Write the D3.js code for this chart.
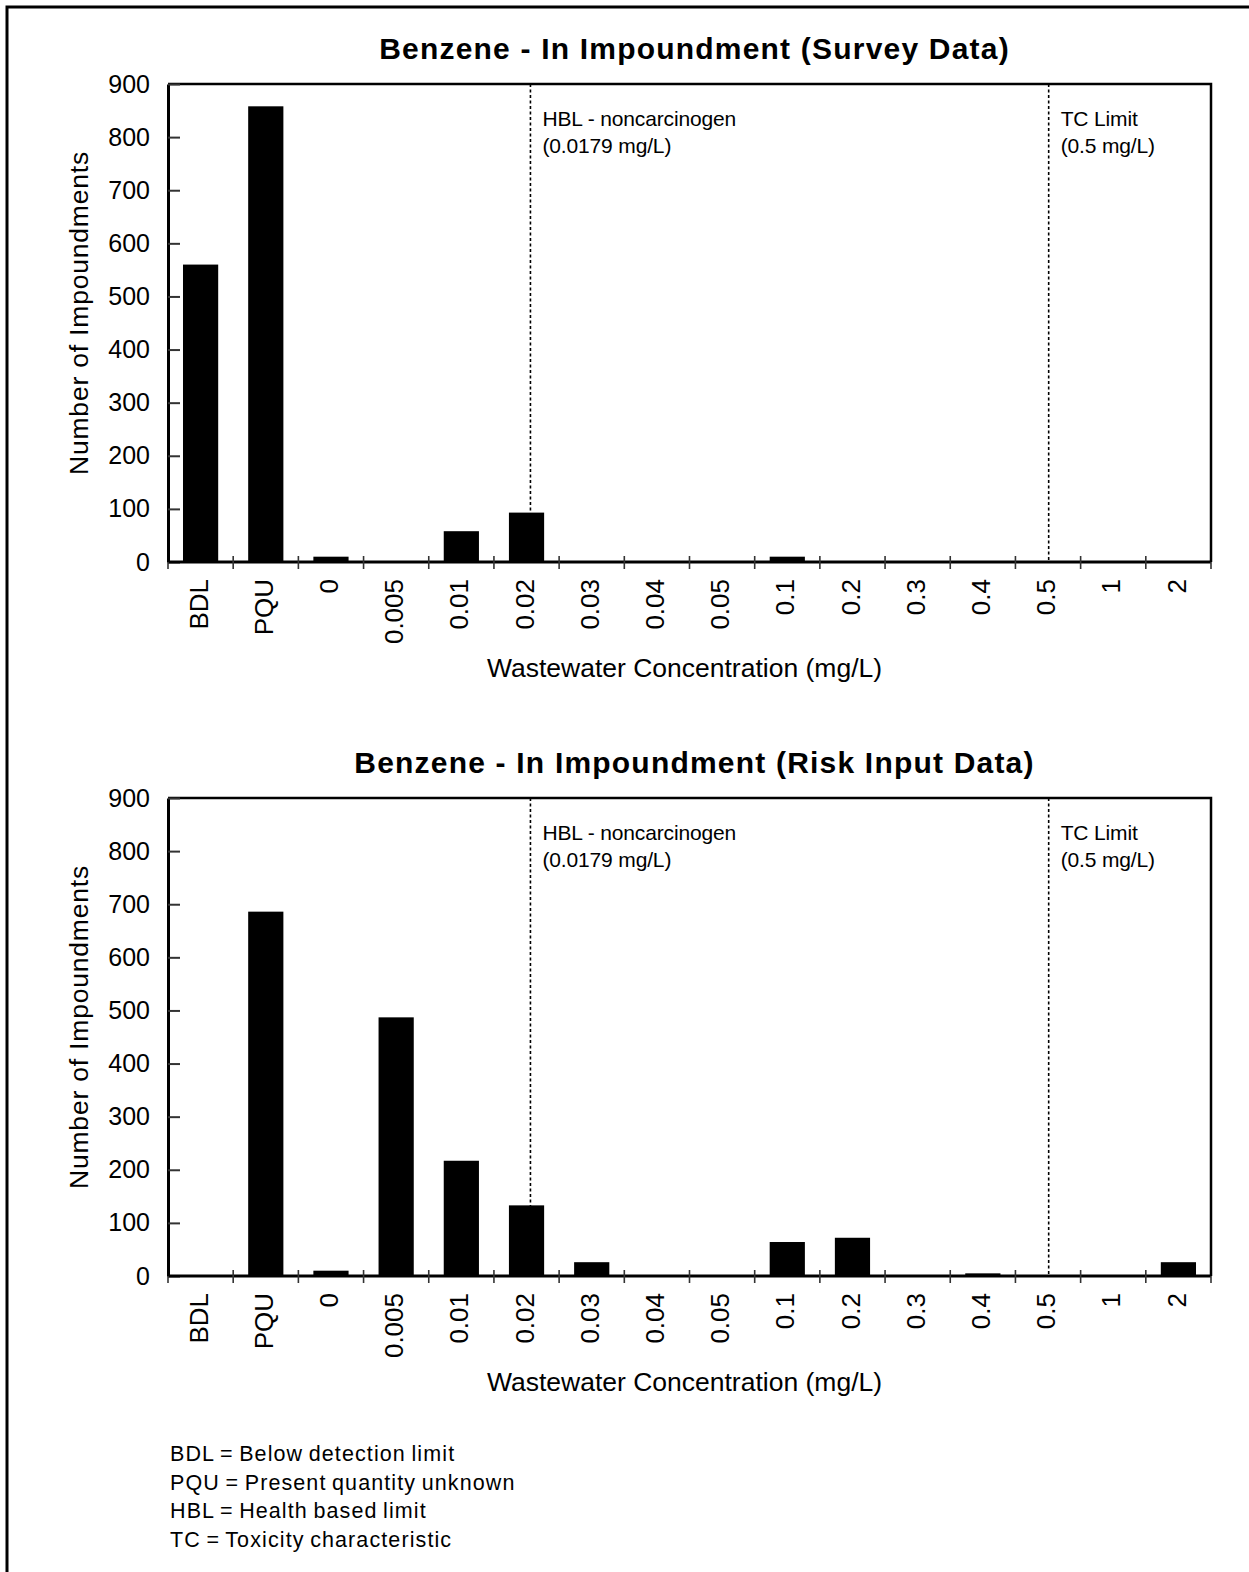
<!DOCTYPE html>
<html>
<head>
<meta charset="utf-8">
<script src="https://cdn.jsdelivr.net/npm/d3@7"></script>
<style>
  body { margin: 0; background: #fff; }
  text { font-family: "Liberation Sans", Arial, sans-serif; fill: #000; }
</style>
</head>
<body>
<svg id="chart" width="1249" height="1572"></svg>
<script>
// categories on the x axis (concentration bins, mg/L)
let categories = ["BDL", "PQU", "0", "0.005", "0.01", "0.02", "0.03", "0.04", "0.05", "0.1", "0.2", "0.3", "0.4", "0.5", "1", "2"];

// number of impoundments per bin
let surveyCounts = [560, 858, 10, 0, 58, 93, 0, 0, 0, 10, 0, 0, 0, 0, 0, 0];
let riskCounts   = [0, 686, 10, 487, 217, 133, 26, 0, 0, 64, 72, 0, 5, 0, 0, 26];

let yTicks = [0, 100, 200, 300, 400, 500, 600, 700, 800, 900];

let titles = ["Benzene - In Impoundment (Survey Data)", "Benzene - In Impoundment (Risk Input Data)"];

// reference lines: bin they fall in, where inside that bin, and the two-line label
let refCats  = ["0.02", "0.5"];
let refFrac  = [0.56, 0.51];
let refLabel = [["HBL - noncarcinogen", "(0.0179 mg/L)"], ["TC Limit", "(0.5 mg/L)"]];

let footnotes = [
  "BDL = Below detection limit",
  "PQU = Present quantity unknown",
  "HBL = Health based limit",
  "TC = Toxicity characteristic"
];

let svg = d3.select("#chart");

svg.append("rect").attr("width", 1249).attr("height", 1572).attr("fill", "#fff");

// outer frame (only left and top edges are inside the picture)
svg.append("path")
  .attr("d", "M7,1572 V7 H1249")
  .attr("fill", "none")
  .attr("stroke", "#000")
  .attr("stroke-width", 3);

let left = 168, right = 1211, plotH = 478;

let xScale = d3.scaleBand()
  .domain(categories)
  .range([left, right])
  .paddingInner(0.46)
  .paddingOuter(0.23);

let yScale = d3.scaleLinear()
  .domain([0, 900])
  .range([plotH, 0]);

function drawChart(top, title, counts) {
  let g = svg.append("g").attr("transform", "translate(0," + top + ")");

  // title
  g.append("text")
    .attr("x", (left + right) / 2 + 5)
    .attr("y", -25)
    .attr("text-anchor", "middle")
    .style("font-size", "30px")
    .style("font-weight", "bold")
    .style("letter-spacing", "1.2px")
    .text(title);

  // plot frame top and right
  g.append("path")
    .attr("d", "M" + left + "," + yScale(900) + " H" + right + " V" + yScale(0))
    .attr("fill", "none")
    .attr("stroke", "#000")
    .attr("stroke-width", 2.5);

  // reference lines (drawn before the bars so bars cover them)
  refCats.forEach((c, i) => {
    let x = xScale(c) - xScale.step() * 0.23 + xScale.step() * refFrac[i];
    g.append("line")
      .attr("x1", x).attr("x2", x)
      .attr("y1", yScale(900)).attr("y2", yScale(0))
      .attr("stroke", "#000")
      .attr("stroke-width", 1.6)
      .attr("stroke-dasharray", "3,2.5");
    refLabel[i].forEach((t, j) => {
      g.append("text")
        .attr("x", x + 12)
        .attr("y", yScale(900) + 42 + j * 27)
        .style("font-size", "21px")
        .style("letter-spacing", "-0.15px")
        .text(t);
    });
  });

  // bars
  g.selectAll(".bar")
    .data(counts)
    .join("rect")
    .attr("class", "bar")
    .attr("x", (d, i) => xScale(categories[i]))
    .attr("width", xScale.bandwidth())
    .attr("y", d => yScale(d))
    .attr("height", d => yScale(0) - yScale(d))
    .attr("fill", "#000");

  // y axis
  let yAxis = g.append("g")
    .attr("transform", "translate(" + left + ",0)")
    .call(d3.axisLeft(yScale)
      .tickValues(yTicks)
      .tickSizeInner(-12)
      .tickSizeOuter(0)
      .tickPadding(18));
  yAxis.select(".domain").attr("stroke-width", 3);
  yAxis.selectAll(".tick line").attr("stroke", "#333").attr("stroke-width", 2);
  yAxis.selectAll("text")
    .style("font-size", "25px")
    .attr("fill", "#000");

  // x axis labels (rotated)
  let xAxis = g.append("g")
    .attr("transform", "translate(0," + plotH + ")")
    .call(d3.axisBottom(xScale).tickSize(0).tickPadding(0));
  xAxis.select(".domain").remove();
  xAxis.selectAll("text")
    .attr("transform", "rotate(-90)")
    .attr("x", -17)
    .attr("y", -2)
    .attr("dy", "0.35em")
    .attr("text-anchor", "end")
    .style("font-size", "26px")
    .attr("fill", "#000");

  // x axis line and bin boundary ticks
  g.append("line")
    .attr("x1", left).attr("x2", right)
    .attr("y1", plotH).attr("y2", plotH)
    .attr("stroke", "#000")
    .attr("stroke-width", 3);
  g.selectAll(".bin-tick")
    .data(d3.range(categories.length + 1))
    .join("line")
    .attr("class", "bin-tick")
    .attr("x1", i => left + i * xScale.step())
    .attr("x2", i => left + i * xScale.step())
    .attr("y1", i => (i == 0 || i == categories.length) ? plotH : plotH - 6)
    .attr("y2", plotH + 7)
    .attr("stroke", "#333")
    .attr("stroke-width", 1.6);

  // axis titles
  g.append("text")
    .attr("x", (left + right) / 2 - 5)
    .attr("y", plotH + 115)
    .attr("text-anchor", "middle")
    .style("font-size", "26.5px")
    .text("Wastewater Concentration (mg/L)");

  g.append("text")
    .attr("transform", "translate(88," + (plotH / 2 - 10) + ") rotate(-90)")
    .attr("text-anchor", "middle")
    .style("font-size", "26.5px")
    .style("letter-spacing", "0.8px")
    .text("Number of Impoundments");
}

drawChart(84, titles[0], surveyCounts);
drawChart(798, titles[1], riskCounts);

// footnotes
svg.selectAll(".note")
  .data(footnotes)
  .join("text")
  .attr("class", "note")
  .attr("x", 170)
  .attr("y", (d, i) => 1461 + i * 28.7)
  .style("font-size", "21.5px")
  .style("letter-spacing", "1.1px")
  .style("word-spacing", "-1.5px")
  .text(d => d);
</script>
</body>
</html>
